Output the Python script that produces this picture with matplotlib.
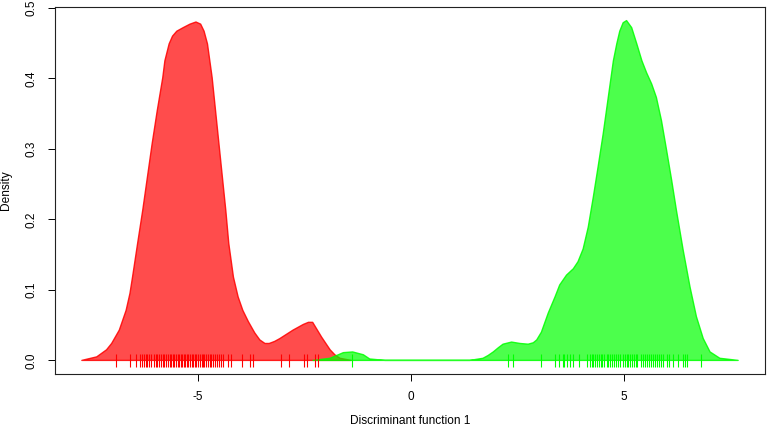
import matplotlib
matplotlib.use("Agg")
import matplotlib.pyplot as plt

plt.rcParams['font.family'] = ['Liberation Sans', 'DejaVu Sans']

# density curves
red_x = [-7.72, -7.37, -7.14, -7.02, -6.84, -6.68, -6.59, -6.53, -6.41, -6.29, -6.18, -6.07,
         -5.95, -5.82, -5.77, -5.67, -5.59, -5.49, -5.34, -5.18, -5.04, -4.93, -4.85, -4.77,
         -4.66, -4.58, -4.50, -4.42, -4.34, -4.27, -4.16, -4.05, -3.94, -3.81, -3.66, -3.54,
         -3.42, -3.32, -3.19, -3.07, -2.76, -2.52, -2.40, -2.30, -2.21, -2.09, -1.89, -1.78,
         -1.66, -1.40]
red_y = [0.0, 0.005, 0.015, 0.024, 0.043, 0.071, 0.095, 0.118, 0.166, 0.213, 0.260, 0.307,
         0.354, 0.401, 0.425, 0.449, 0.460, 0.467, 0.472, 0.477, 0.480, 0.477, 0.467, 0.449,
         0.401, 0.354, 0.307, 0.260, 0.213, 0.166, 0.118, 0.090, 0.071, 0.055, 0.039, 0.029,
         0.024, 0.024, 0.027, 0.031, 0.043, 0.051, 0.054, 0.054, 0.045, 0.033, 0.015, 0.008,
         0.003, 0.0]

green_x = [-2.29, -1.89, -1.58, -1.36, -1.11, -0.96, -0.60, 1.39, 1.70, 1.82, 1.94, 2.06,
           2.17, 2.37, 2.57, 2.76, 2.88, 2.96, 3.07, 3.23, 3.39, 3.50, 3.66, 3.82, 3.93, 4.05,
           4.17, 4.29, 4.40, 4.52, 4.64, 4.76, 4.84, 4.91, 4.99, 5.07, 5.19, 5.31, 5.43, 5.54,
           5.66, 5.77, 5.89, 6.01, 6.13, 6.24, 6.40, 6.56, 6.71, 6.87, 7.03, 7.26, 7.69]
green_y = [0.0, 0.003, 0.011, 0.012, 0.008, 0.002, 0.0, 0.0, 0.003, 0.007, 0.012, 0.018,
           0.023, 0.026, 0.024, 0.023, 0.025, 0.029, 0.040, 0.067, 0.090, 0.107, 0.121, 0.130,
           0.140, 0.158, 0.189, 0.232, 0.274, 0.321, 0.373, 0.425, 0.449, 0.467, 0.479, 0.482,
           0.472, 0.449, 0.425, 0.408, 0.392, 0.373, 0.340, 0.298, 0.255, 0.213, 0.156, 0.104,
           0.062, 0.031, 0.012, 0.003, 0.0]

# rug (individual scores)
red_rug = [-6.92, -6.58, -6.44, -6.35, -6.30, -6.26, -6.22, -6.19, -6.15, -6.10, -6.03, -5.98,
           -5.95, -5.90, -5.85, -5.82, -5.78, -5.74, -5.70, -5.66, -5.62, -5.58, -5.55, -5.50,
           -5.47, -5.43, -5.40, -5.36, -5.33, -5.29, -5.25, -5.22, -5.18, -5.14, -5.10, -5.06,
           -5.03, -4.99, -4.95, -4.91, -4.87, -4.84, -4.80, -4.76, -4.72, -4.68, -4.64, -4.60,
           -4.55, -4.50, -4.46, -4.41, -4.28, -4.22, -3.95, -3.76, -3.69, -3.05, -2.86, -2.51,
           -2.43, -2.24, -2.18]
green_rug = [-1.37, 2.29, 2.41, 3.05, 3.40, 3.48, 3.57, 3.61, 3.66, 3.74, 3.82, 3.95, 4.15,
             4.21, 4.25, 4.29, 4.33, 4.38, 4.42, 4.46, 4.50, 4.55, 4.60, 4.64, 4.69, 4.73, 4.78,
             4.82, 4.87, 4.91, 4.99, 5.03, 5.07, 5.11, 5.15, 5.19, 5.24, 5.28, 5.31, 5.42, 5.46,
             5.50, 5.55, 5.60, 5.64, 5.69, 5.73, 5.78, 5.83, 5.88, 5.93, 6.01, 6.07, 6.16, 6.28,
             6.40, 6.44, 6.48, 6.81]

xticks = [-5, 0, 5]
yticks = [0.0, 0.1, 0.2, 0.3, 0.4, 0.5]

fig = plt.figure(figsize=(7.67, 4.29), dpi=100)
ax = fig.add_axes([55/767, 55/429, 710/767, 367/429])

ax.fill(red_x, red_y, facecolor=(1, 0, 0, 0.7), edgecolor=(1, 0, 0, 0.85), lw=1, joinstyle='round')
ax.fill(green_x, green_y, facecolor=(0, 1, 0, 0.7), edgecolor=(0, 1, 0, 0.85), lw=1, joinstyle='round')

ax.vlines(red_rug, -0.0088, 0.0085, color='red', lw=0.8)
ax.vlines(green_rug, -0.0088, 0.0085, color='lime', lw=0.8)

ax.set_xlim(-8.35, 8.32)
ax.set_ylim(-0.0193, 0.5013)
ax.set_xticks(xticks)
ax.set_xticklabels([str(t) for t in xticks])
ax.set_yticks(yticks)
ax.set_yticklabels(['%.1f' % t for t in yticks], rotation=90, va='center')
ax.tick_params(direction='out', length=5, width=0.7, pad=7.5, labelsize=8.5, colors='black')

for s in ax.spines.values():
    s.set_linewidth(0.8)
    s.set_color('#222222')

ax.set_xlabel('Discriminant function 1', fontsize=8.6, va='center')
ax.xaxis.set_label_coords(0.5, -47/367)
ax.set_ylabel('Density', fontsize=8.6, va='center')
ax.yaxis.set_label_coords(-49/710, 0.5)

fig.savefig('out.png', dpi=100)
